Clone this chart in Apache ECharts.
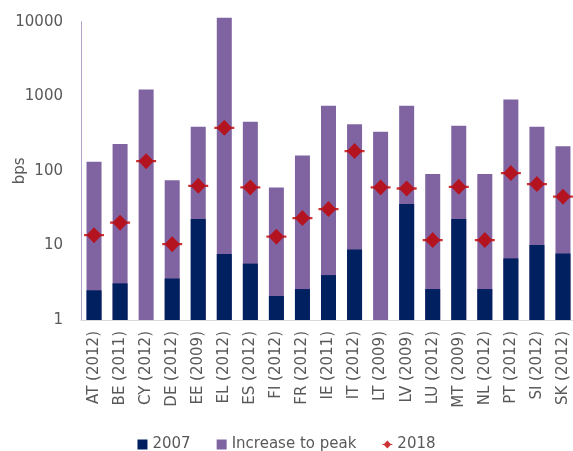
<!DOCTYPE html>
<html>
<head>
<meta charset="utf-8">
<script src="https://cdn.jsdelivr.net/npm/echarts@6/dist/echarts.min.js"></script>
<style>
  html, body { margin: 0; padding: 0; background: #fff; }
  #main { width: 573px; height: 451px; }
</style>
</head>
<body>
<div id="main"></div>
<script>
// categories: country (year of peak)
var categories = ['AT (2012)', 'BE (2011)', 'CY (2012)', 'DE (2012)', 'EE (2009)', 'EL (2012)',
    'ES (2012)', 'FI (2012)', 'FR (2012)', 'IE (2011)', 'IT (2012)', 'LT (2009)', 'LV (2009)',
    'LU (2012)', 'MT (2009)', 'NL (2012)', 'PT (2012)', 'SI (2012)', 'SK (2012)'];
// spread in 2007 (bps), missing for CY and LT
var spread2007 = [2.5, 3.1, null, 3.6, 22.6, 7.7, 5.7, 2.1, 2.6, 4.0, 8.8, null, 36, 2.6, 22.6, 2.6, 6.7, 10.1, 7.8];
// peak level = 2007 + increase to peak (bps)
var peakLevel = [132, 229, 1237, 75, 390, 11300, 455, 60, 161, 746, 420, 334, 746, 91, 403, 91, 908, 390, 213];
// spread in 2018 (bps)
var spread2018 = [13.7, 20.2, 135, 10.4, 63, 378, 60, 13.1, 23.3, 30.7, 184, 60, 58, 11.8, 61, 11.8, 93.5, 66.5, 45];
var yTicks = [1, 10, 100, 1000, 10000];

var TEXT = '#595959';
var FONT = 'DejaVu Sans';
var MARKER = 'path://M0,6 L3,6 L9,0 L15,6 L18,6 L18,8 L15,8 L9,14 L3,8 L0,8 Z';

var chart = echarts.init(document.getElementById('main'));
chart.setOption({
    animation: false,
    textStyle: { fontFamily: FONT },
    grid: { left: 81, top: 21.7, width: 495, height: 298.3, containLabel: false, outerBoundsMode: 'none' },
    legend: {
        top: 432,
        left: 'center',
        itemWidth: 10,
        itemHeight: 10,
        itemGap: 26,
        textStyle: { color: TEXT, fontSize: 15, fontFamily: FONT },
        data: [
            { name: '2007', icon: 'rect' },
            { name: 'Increase to peak', icon: 'rect' },
            { name: '2018', icon: MARKER }
        ]
    },
    xAxis: {
        type: 'category',
        data: categories,
        axisLine: { lineStyle: { color: '#d9d9d9' } },
        axisTick: { show: false },
        axisLabel: { interval: 0, rotate: 90, margin: 11, color: TEXT, fontSize: 15, fontFamily: FONT }
    },
    yAxis: {
        type: 'log',
        logBase: 10,
        min: yTicks[0],
        max: yTicks[yTicks.length - 1],
        name: 'bps',
        nameLocation: 'middle',
        nameGap: 53,
        nameMoveOverlap: false,
        nameTextStyle: { color: TEXT, fontSize: 15, fontFamily: FONT },
        splitLine: { show: false },
        axisLine: { show: true, lineStyle: { color: '#b3a2c7' } },
        axisTick: { show: false },
        axisLabel: {
            margin: 18, color: TEXT, fontSize: 15, fontFamily: FONT,
            formatter: function (v) { return String(Math.round(v)); }
        }
    },
    series: [
        {
            name: 'Increase to peak',
            type: 'bar',
            data: peakLevel,
            barWidth: 15,
            clip: false,
            itemStyle: { color: '#8064a2' }
        },
        {
            name: '2007',
            type: 'bar',
            data: spread2007,
            barWidth: 15,
            barGap: '-100%',
            itemStyle: { color: '#002060' }
        },
        {
            name: '2018',
            type: 'scatter',
            data: spread2018,
            symbol: MARKER,
            symbolSize: [20, 16],
            itemStyle: { color: '#c00000' },
            z: 5
        }
    ]
});
</script>
</body>
</html>
